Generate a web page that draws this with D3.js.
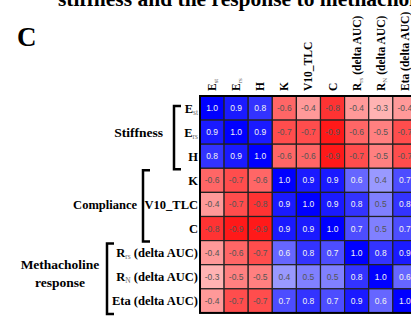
<!DOCTYPE html>
<html>
<head>
<meta charset="utf-8">
<script src="https://cdn.jsdelivr.net/npm/d3@7"></script>
<style>
  body { margin: 0; background: #fff; }
  svg text { font-family: "Liberation Serif", "Times New Roman", serif; }
</style>
</head>
<body>
<div id="chart"></div>
<script>
// variable labels: main text, subscript, trailing text
const labelMain = ["E", "E", "H", "K", "V10_TLC", "C", "R", "R", "Eta"];
const labelSub  = ["st", "rs", "", "", "", "", "rs", "N", ""];
const labelRest = ["", "", "", "", "", "", " (delta AUC)", " (delta AUC)", " (delta AUC)"];

// correlation matrix, rows and columns in label order
const corr = [
  [ 1.0,  0.9,  0.8, -0.6, -0.4, -0.8, -0.4, -0.3, -0.4],
  [ 0.9,  1.0,  0.9, -0.7, -0.7, -0.9, -0.6, -0.5, -0.7],
  [ 0.8,  0.9,  1.0, -0.6, -0.6, -0.9, -0.7, -0.5, -0.7],
  [-0.6, -0.7, -0.6,  1.0,  0.9,  0.9,  0.6,  0.4,  0.7],
  [-0.4, -0.7, -0.8,  0.9,  1.0,  0.9,  0.8,  0.5,  0.8],
  [-0.8, -0.9, -0.9,  0.9,  0.9,  1.0,  0.7,  0.5,  0.7],
  [-0.4, -0.6, -0.7,  0.6,  0.8,  0.7,  1.0,  0.8,  0.9],
  [-0.3, -0.5, -0.5,  0.4,  0.5,  0.5,  0.8,  1.0,  0.6],
  [-0.4, -0.7, -0.7,  0.7,  0.8,  0.7,  0.9,  0.6,  1.0]
];

// row groups
const groupNames = [["Stiffness"], ["Compliance"], ["Methacholine", "response"]];
const groupStart = [0, 3, 6];
const groupEnd   = [2, 5, 8];

const width = 411, height = 320;
const cell = 24.1;
const gridLeft = 200, gridTop = 96;

const svg = d3.select("#chart").append("svg")
  .attr("width", width)
  .attr("height", height);

const idx = d3.range(labelMain.length);

const x = d3.scaleBand().domain(idx).range([gridLeft, gridLeft + cell * idx.length]);
const y = d3.scaleBand().domain(idx).range([gridTop, gridTop + cell * idx.length]);

const color = d3.scaleLinear().domain([-1, 0, 1]).range(["#ff0000", "#ffffff", "#0000ff"]);

// title (cut by top edge, as in the source figure) and panel letter
svg.append("text")
  .attr("x", 58).attr("y", 6)
  .attr("font-size", 21.5).attr("font-weight", "bold")
  .text("stiffness and the response to methacholine");

svg.append("text")
  .attr("x", 17).attr("y", 46)
  .attr("font-size", 27).attr("font-weight", "bold")
  .text("C");

// cells
const cells = [];
corr.forEach((row, i) => row.forEach((v, j) => cells.push({ i, j, v })));

const g = svg.append("g");

g.selectAll("rect.cell").data(cells).enter().append("rect")
  .attr("class", "cell")
  .attr("x", d => x(d.j))
  .attr("y", d => y(d.i))
  .attr("width", x.bandwidth())
  .attr("height", y.bandwidth())
  .attr("fill", d => color(d.v))
  .attr("stroke", "#222")
  .attr("stroke-width", 1.2);

g.selectAll("text.val").data(cells).enter().append("text")
  .attr("class", "val")
  .attr("x", d => x(d.j) + x.bandwidth() / 2)
  .attr("y", d => y(d.i) + y.bandwidth() / 2 + 3)
  .attr("text-anchor", "middle")
  .style("font-family", "'Liberation Sans', Arial, sans-serif")
  .attr("font-size", 8.5)
  .attr("fill", d => d.v >= 0.6 ? "#f2f2f2" : "#555")
  .text(d => d3.format(".1f")(d.v).replace("−", "-"));

// outer border
svg.append("rect")
  .attr("x", gridLeft).attr("y", gridTop)
  .attr("width", cell * idx.length).attr("height", cell * idx.length)
  .attr("fill", "none").attr("stroke", "#000").attr("stroke-width", 2);

// label helper
const addLabel = (sel, i, size) => {
  sel.append("tspan").text(labelMain[i]);
  if (labelSub[i]) {
    sel.append("tspan")
      .attr("font-size", size * 0.6)
      .attr("font-weight", "normal")
      .attr("fill", "#666")
      .attr("baseline-shift", "-25%")
      .text(labelSub[i]);
  }
  if (labelRest[i]) sel.append("tspan").text(labelRest[i]);
};

// column labels
idx.forEach(i => {
  const t = svg.append("text")
    .attr("transform", `translate(${x(i) + x.bandwidth() / 2 + 4},${gridTop - 5}) rotate(-90)`)
    .attr("font-size", 11.5).attr("font-weight", "bold");
  addLabel(t, i, 11.5);
});

// row labels
idx.forEach(i => {
  const t = svg.append("text")
    .attr("x", gridLeft - 2)
    .attr("y", y(i) + y.bandwidth() / 2 + 4.5)
    .attr("text-anchor", "end")
    .attr("font-size", 12.5).attr("font-weight", "bold");
  addLabel(t, i, 12.5);
});

// group brackets
const bracketX = [174, 143, 107];
const bracketTop = [10, 2, 3];
const textGap = [11, 6, 7];
const groupSize = [13.5, 12.5, 13.5];
groupNames.forEach((name, k) => {
  const bx = bracketX[k];
  const y0 = y(groupStart[k]) + bracketTop[k];
  const y1 = y(groupEnd[k]) + y.bandwidth() + 1;
  svg.append("path")
    .attr("d", `M${bx + 7},${y0} H${bx} V${y1} H${bx + 7}`)
    .attr("fill", "none").attr("stroke", "#000").attr("stroke-width", 2.5);
  const cy = (y(groupStart[k]) + y(groupEnd[k]) + y.bandwidth()) / 2;
  if (name.length === 1) {
    svg.append("text")
      .attr("x", bx - textGap[k]).attr("y", cy + 5)
      .attr("text-anchor", "end")
      .attr("font-size", groupSize[k]).attr("font-weight", "bold")
      .text(name[0]);
  } else {
    name.forEach((line, n) => {
      svg.append("text")
        .attr("x", 60).attr("y", cy + 1 + (n - 0.5) * 18)
        .attr("text-anchor", "middle")
        .attr("font-size", groupSize[k]).attr("font-weight", "bold")
        .text(line);
    });
  }
});
</script>
</body>
</html>
